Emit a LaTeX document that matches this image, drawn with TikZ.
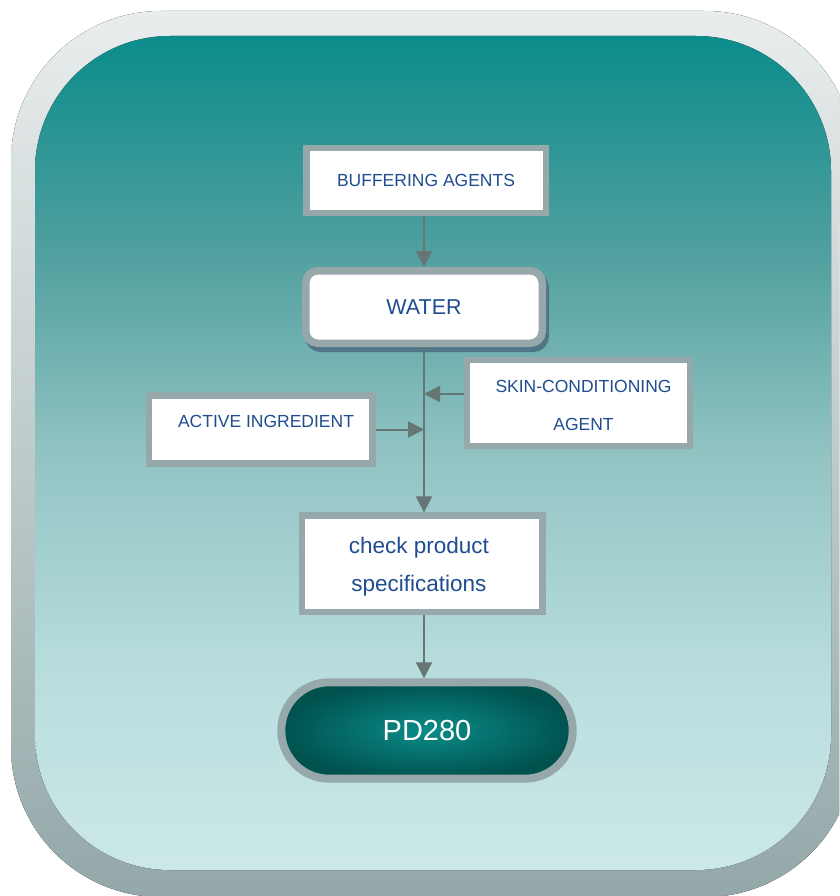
\documentclass[tikz,border=0pt]{standalone}
\usepackage{fontspec}
\setmainfont{Liberation Sans}
\usepackage{xcolor}
\usetikzlibrary{arrows.meta,shadows}

\definecolor{frameTop}{HTML}{E9EDED}
\definecolor{frameBot}{HTML}{94A8A9}
\definecolor{bgTop}{HTML}{0B8C8B}
\definecolor{bgA}{HTML}{50A09F}
\definecolor{bgB}{HTML}{92C3C3}
\definecolor{bgC}{HTML}{B8DDDD}
\definecolor{bgBot}{HTML}{CCE8E8}
\definecolor{boxLine}{HTML}{97A8AA}
\definecolor{arrowGray}{HTML}{657675}
\definecolor{textBlue}{HTML}{1F4D8F}
\definecolor{waterShadow}{HTML}{4F7587}
\definecolor{pdDark}{HTML}{00524F}
\definecolor{pdLight}{HTML}{0B8C89}

\pgfdeclareverticalshading{panel}{100bp}{color(0bp)=(bgBot); color(25bp)=(bgBot); color(37bp)=(bgC); color(50bp)=(bgB); color(62bp)=(bgA); color(75bp)=(bgTop); color(100bp)=(bgTop)}

\begin{document}
\begin{tikzpicture}[x=1pt,y=-1pt,
    box/.style={draw=boxLine, fill=white, line width=6.5pt, text=textBlue,
        font=\fontsize{17.5}{20}\selectfont, inner sep=0pt, align=center},
    flow/.style={draw=arrowGray, line width=2pt, -{Triangle[length=16pt,width=16pt]}}]

        \useasboundingbox (0,0) rectangle (839,896);
        \begin{scope}
            \clip (0,0) rectangle (839,896);
            \fill[top color=frameTop, bottom color=frameBot, rounded corners=150pt] (11,11) rectangle (855,897);
        \end{scope}
        \fill[shading=panel, rounded corners=135pt] (35,36) rectangle (831,870);

        \node[box, minimum width=239.5pt, minimum height=64.5pt] (buffer) at (426,180.5) {BUFFERING AGENTS};
        \node[box, line width=7.5pt, rounded corners=12pt, font=\fontsize{21.5}{24}\selectfont,
            minimum width=236.5pt, minimum height=72.5pt,
            drop shadow={shadow xshift=3pt, shadow yshift=-5pt, fill=waterShadow, draw=waterShadow, line width=7.5pt, opacity=1}]
            (water) at (424,307) {WATER};
        \node[box, line width=6.3pt, minimum width=222.7pt, minimum height=85.7pt,
            label={[name=skintxt, text=textBlue, align=center, font=\fontsize{17.5}{38}\selectfont, xshift=5pt, yshift=-2pt]center:SKIN-CONDITIONING\\AGENT}]
            (skin) at (578.5,403) {};
        \node[box, line width=6.3pt, minimum width=223.7pt, minimum height=68.1pt,
            label={[name=activetxt, text=textBlue, font=\fontsize{17.5}{20}\selectfont, xshift=5.3pt, yshift=8.5pt]center:ACTIVE INGREDIENT}]
            (active) at (260.7,429.5) {};
        \node[box, minimum width=240.2pt, minimum height=96.2pt,
            label={[name=checktxt, text=textBlue, align=center, font=\fontsize{22.5}{37.5}\selectfont, xshift=-3.5pt, yshift=-3pt]center:check product\\specifications}]
            (check) at (422.3,563.7) {};
        \node[draw=boxLine, line width=8pt, rounded corners=48pt, inner color=pdLight, outer color=pdDark,
            text=white, font=\fontsize{29}{32}\selectfont, minimum width=291.4pt, minimum height=96.4pt]
            (pd) at (427,730.5) {PD280};

        \draw[flow] (buffer.south -| water.south) -- (water.north);
        \draw[flow] (water.south) -- (check.north -| water.south);
        \draw[flow] ([yshift=9pt]skin.west) -- ([yshift=9pt]skin.west -| water.south);
        \draw[flow] (active.east) -- (active.east -| water.south);
        \draw[flow] (check.south -| water.south) -- (pd.north -| water.south);
    \end{tikzpicture}
\end{document}
